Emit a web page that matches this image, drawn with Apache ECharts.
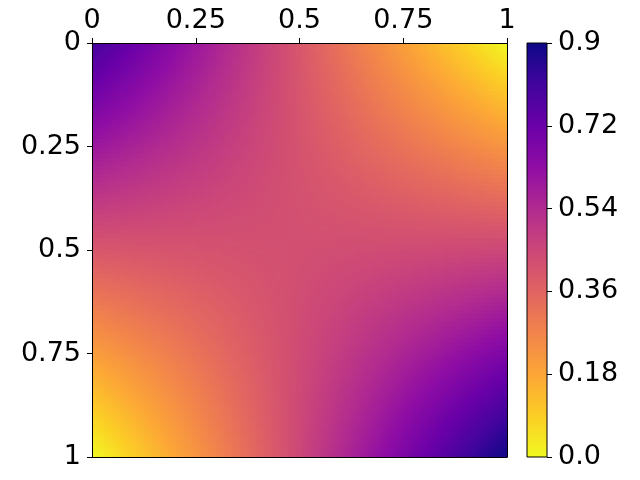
<!DOCTYPE html>
<html>
<head>
<meta charset="utf-8">
<script src="https://cdn.jsdelivr.net/npm/echarts@6/dist/echarts.min.js"></script>
<style>
  html, body { margin: 0; padding: 0; background: #fff; }
  #chart { width: 640px; height: 480px; }
</style>
</head>
<body>
<div id="chart"></div>
<script>
// grid edges and the values at the corners (rows = y, top to bottom)
const xEdges = [0, 1];
const yEdges = [0, 1];
const cornerValues = [
  [0.8, 0.0],
  [0.0, 0.9]
];
const axisTicks = [0, 0.25, 0.5, 0.75, 1];
const cbarTicks = ['0.0', '0.18', '0.36', '0.54', '0.72', '0.9'];
const vmin = 0, vmax = 0.9;

// plasma colormap stops (used reversed: 0 = yellow, max = dark blue)
const plasma = ['#0d0887', '#41049d', '#6a00a8', '#8f0da4', '#b12a90', '#cc4778',
  '#e16462', '#f2844b', '#fca636', '#fcce25', '#f0f921'];

function hexRgb(h) {
  return [parseInt(h.slice(1, 3), 16), parseInt(h.slice(3, 5), 16), parseInt(h.slice(5, 7), 16)];
}
const plasmaRgb = plasma.map(hexRgb);

function colorOf(v) {
  let t = 1 - (v - vmin) / (vmax - vmin);
  t = Math.max(0, Math.min(1, t)) * (plasmaRgb.length - 1);
  const i = Math.min(Math.floor(t), plasmaRgb.length - 2);
  const f = t - i;
  const a = plasmaRgb[i], b = plasmaRgb[i + 1];
  return 'rgb(' + [0, 1, 2].map(k => Math.round(a[k] + (b[k] - a[k]) * f)).join(',') + ')';
}

// one item per cell: x0, x1, y0, y1, v(x0,y0), v(x1,y0), v(x0,y1), v(x1,y1)
const cells = [];
for (let r = 0; r < yEdges.length - 1; r++) {
  for (let c = 0; c < xEdges.length - 1; c++) {
    cells.push([xEdges[c], xEdges[c + 1], yEdges[r], yEdges[r + 1],
      cornerValues[r][c], cornerValues[r][c + 1], cornerValues[r + 1][c], cornerValues[r + 1][c + 1]]);
  }
}

function renderCell(params, api) {
  const p0 = api.coord([api.value(0), api.value(2)]);
  const p1 = api.coord([api.value(1), api.value(3)]);
  const v00 = api.value(4), v10 = api.value(5), v01 = api.value(6), v11 = api.value(7);
  const N = 104;
  const children = [];
  for (let i = 0; i < N; i++) {
    const xa = Math.round(p0[0] + (p1[0] - p0[0]) * i / N);
    const xb = Math.round(p0[0] + (p1[0] - p0[0]) * (i + 1) / N);
    const u = (i + 0.5) / N;
    for (let j = 0; j < N; j++) {
      const ya = Math.round(p0[1] + (p1[1] - p0[1]) * j / N);
      const yb = Math.round(p0[1] + (p1[1] - p0[1]) * (j + 1) / N);
      const t = (j + 0.5) / N;
      const v = v00 * (1 - u) * (1 - t) + v10 * u * (1 - t) + v01 * (1 - u) * t + v11 * u * t;
      children.push({
        type: 'rect',
        shape: { x: xa, y: ya, width: xb - xa, height: yb - ya },
        style: { fill: colorOf(v) }
      });
    }
  }
  return { type: 'group', children: children };
}

function renderBar(params, api) {
  const top = api.coord([0, vmax]);
  const bottom = api.coord([0, vmin]);
  const size = api.size([1, 0]);
  const x = top[0] - size[0] / 2;
  return {
    type: 'rect',
    shape: { x: x, y: top[1], width: size[0], height: bottom[1] - top[1] },
    style: {
      fill: new echarts.graphic.LinearGradient(0, 0, 0, 1,
        plasma.map((c, k) => ({ offset: k / (plasma.length - 1), color: c }))),
      stroke: '#000',
      lineWidth: 1
    }
  };
}

const font = 'DejaVu Sans';
const labelStyle = { color: '#000', fontSize: 27, fontFamily: font };
const lineStyle = { color: '#000', width: 1 };

const chart = echarts.init(document.getElementById('chart'));
chart.setOption({
  animation: false,
  backgroundColor: '#fff',
  grid: [
    { left: 92, top: 43, width: 415, height: 414 },
    { left: 527, top: 43, width: 20, height: 414 }
  ],
  xAxis: [
    {
      type: 'value', gridIndex: 0, position: 'top', min: 0, max: 1, interval: 0.25, z: 10,
      axisLine: { show: true, lineStyle: lineStyle },
      axisTick: { show: true, length: 5, lineStyle: lineStyle },
      axisLabel: Object.assign({ margin: 9 }, labelStyle),
      splitLine: { show: false }
    },
    {
      type: 'value', gridIndex: 0, position: 'bottom', min: 0, max: 1, z: 10,
      axisLine: { show: true, onZero: false, lineStyle: lineStyle },
      axisTick: { show: false }, axisLabel: { show: false }, splitLine: { show: false }
    },
    {
      type: 'category', gridIndex: 1, data: ['c'], show: false
    }
  ],
  yAxis: [
    {
      type: 'value', gridIndex: 0, inverse: true, min: 0, max: 1, interval: 0.25, z: 10,
      axisLine: { show: true, lineStyle: lineStyle },
      axisTick: { show: true, length: 5, lineStyle: lineStyle },
      axisLabel: Object.assign({ margin: 11 }, labelStyle),
      splitLine: { show: false }
    },
    {
      type: 'value', gridIndex: 0, position: 'right', inverse: true, min: 0, max: 1, z: 10,
      axisLine: { show: true, onZero: false, lineStyle: lineStyle },
      axisTick: { show: false }, axisLabel: { show: false }, splitLine: { show: false }
    },
    {
      type: 'value', gridIndex: 1, position: 'right', min: vmin, max: vmax, interval: 0.18, z: 10,
      axisLine: { show: false },
      axisTick: { show: true, length: 5, lineStyle: lineStyle },
      axisLabel: Object.assign({
        margin: 11,
        formatter: v => cbarTicks[Math.round(v / 0.18)]
      }, labelStyle),
      splitLine: { show: false }
    }
  ],
  series: [
    {
      type: 'custom', xAxisIndex: 0, yAxisIndex: 0, z: 1, silent: true,
      renderItem: renderCell,
      data: cells
    },
    {
      type: 'custom', xAxisIndex: 2, yAxisIndex: 2, z: 1, silent: true,
      renderItem: renderBar,
      data: [['c', vmax]]
    }
  ]
});
window.addEventListener('resize', chart.resize);
</script>
</body>
</html>
